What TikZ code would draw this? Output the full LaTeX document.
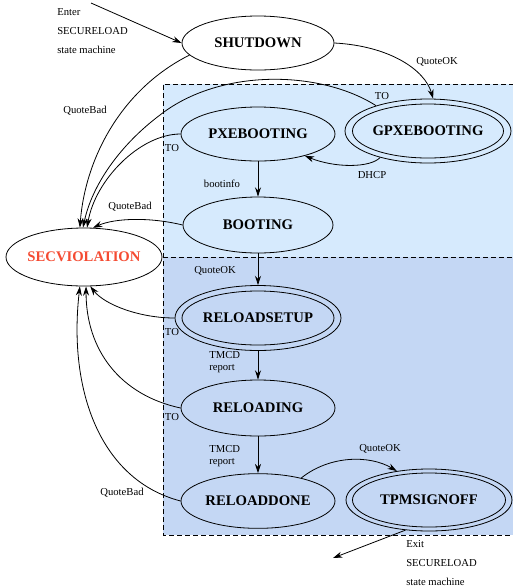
\documentclass[tikz,border=0pt]{standalone}
\usepackage{fontspec}
\setmainfont{Liberation Serif}
\usetikzlibrary{shapes.geometric,arrows.meta}
\definecolor{lightb}{RGB}{214,234,253}
\definecolor{darkb}{RGB}{196,215,244}
\definecolor{secred}{RGB}{245,75,50}
\tikzset{
  arr/.style={-{Stealth[length=7pt,width=4.5pt]}, line width=0.6pt},
  lbl/.style={font=\fontsize{8}{9.5}\selectfont, inner sep=0pt},
  st/.style={ellipse, draw, line width=0.6pt, font=\bfseries\fontsize{11}{13}\selectfont, inner xsep=-8pt, inner ysep=0pt},
  dsh/.style={line width=0.6pt, dash pattern=on 3.5pt off 2.5pt}
}
\begin{document}
\begin{tikzpicture}[x=0.75pt,y=-0.75pt]
\useasboundingbox (0,0) rectangle (513,587);
% backgrounds
\fill[lightb] (163,84) rectangle (514,257);
\fill[darkb] (163,257) rectangle (514,535);
\draw[dsh] (514,84) -- (163,84) -- (163,535) -- (514,535);
\draw[dsh] (163,257) -- (514,257);
% states
\node[st, fill=white, minimum width=114pt, minimum height=40.5pt] (shut) at (258,43) {SHUTDOWN};
\node[st, fill=white, text=secred, minimum width=117pt, minimum height=43.5pt] (secv) at (84,257) {SECVIOLATION};
\node[st, fill=lightb, minimum width=115.5pt, minimum height=40.5pt] (pxe) at (258,134) {PXEBOOTING};
\node[st, fill=lightb, minimum width=112.5pt, minimum height=42pt] (boot) at (258,225) {BOOTING};
\node[st, fill=lightb, minimum width=124.5pt, minimum height=48pt] (gpx) at (428,131) {};
\node[st, minimum width=113.25pt, minimum height=40.5pt] (gpxin) at (428,131) {GPXEBOOTING};
\node[st, fill=darkb, minimum width=124.5pt, minimum height=48.75pt] (rsetup) at (258,318) {};
\node[st, minimum width=114pt, minimum height=40.5pt] (rsetupin) at (258,318) {RELOADSETUP};
\node[st, fill=darkb, minimum width=115.5pt, minimum height=42pt] (rload) at (258,408) {RELOADING};
\node[st, fill=darkb, minimum width=115.5pt, minimum height=41pt] (rdone) at (258,501) {RELOADDONE};
\node[st, fill=darkb, minimum width=124.5pt, minimum height=46.5pt] (tpm) at (429,500) {};
\node[st, minimum width=114.75pt, minimum height=40.5pt] (tpmin) at (429,500) {TPMSIGNOFF};
% free ends
\coordinate (enter) at (91,3);
\coordinate (exit) at (333,558);
% texts
\node[lbl, anchor=west, align=left, font=\fontsize{8}{14.25}\selectfont] (entertxt) at (57,31) {Enter\\SECURELOAD\\state machine};
\node[lbl, anchor=west, align=left, font=\fontsize{8}{14.25}\selectfont] (exittxt) at (406,563) {Exit\\SECURELOAD\\state machine};
\node[lbl] (l1) at (85,111) {QuoteBad};
\node[lbl] (l2) at (437,62) {QuoteOK};
\node[lbl] (l3) at (382,96) {TO};
\node[lbl] (l4) at (172,148) {TO};
\node[lbl] (l5) at (372,175) {DHCP};
\node[lbl] (l6) at (222,184) {bootinfo};
\node[lbl] (l7) at (130,207) {QuoteBad};
\node[lbl] (l8) at (215,271) {QuoteOK};
\node[lbl] (l9) at (172,332) {TO};
\node[lbl, anchor=west, align=left] (l10) at (209,362) {TMCD\\report};
\node[lbl] (l11) at (172,417) {TO};
\node[lbl, anchor=west, align=left] (l12) at (209,456) {TMCD\\report};
\node[lbl] (l13) at (122,493) {QuoteBad};
\node[lbl] (l14) at (380,449) {QuoteOK};
% connectors
\draw[arr] (enter) -- (shut.west);
\draw[arr] (shut.190) .. controls (120,90) and (85,160) .. (secv.98);
\draw[arr] (gpx.154) .. controls (320,70) and (220,68) .. (160,115) .. controls (120,145) and (92,185) .. (secv.92);
\draw[arr] (pxe.west) .. controls (140,134) and (95,180) .. (secv.84);
\draw[arr] (boot.west) .. controls (150,217) and (115,218) .. (secv.73);
\draw[arr] (rsetup.west) .. controls (140,318) and (105,305) .. (secv.282);
\draw[arr] (rload.west) .. controls (120,395) and (86,350) .. (secv.274);
\draw[arr] (rdone.west) .. controls (100,480) and (68,390) .. (secv.262);
\draw[arr] (shut.east) .. controls (390,46) and (425,70) .. (gpx.81);
\draw[arr] (gpx.209) .. controls (370,168) and (335,168) .. (pxe.335);
\draw[arr] (pxe.south) -- (boot.north);
\draw[arr] (boot.south) -- (rsetup.north);
\draw[arr] (rsetup.south) -- (rload.north);
\draw[arr] (rload.south) -- (rdone.north);
\draw[arr] (rdone.28) .. controls (330,455) and (370,455) .. (tpm.138);
\draw[arr] (tpm.232) -- (exit);
\end{tikzpicture}
\end{document}
